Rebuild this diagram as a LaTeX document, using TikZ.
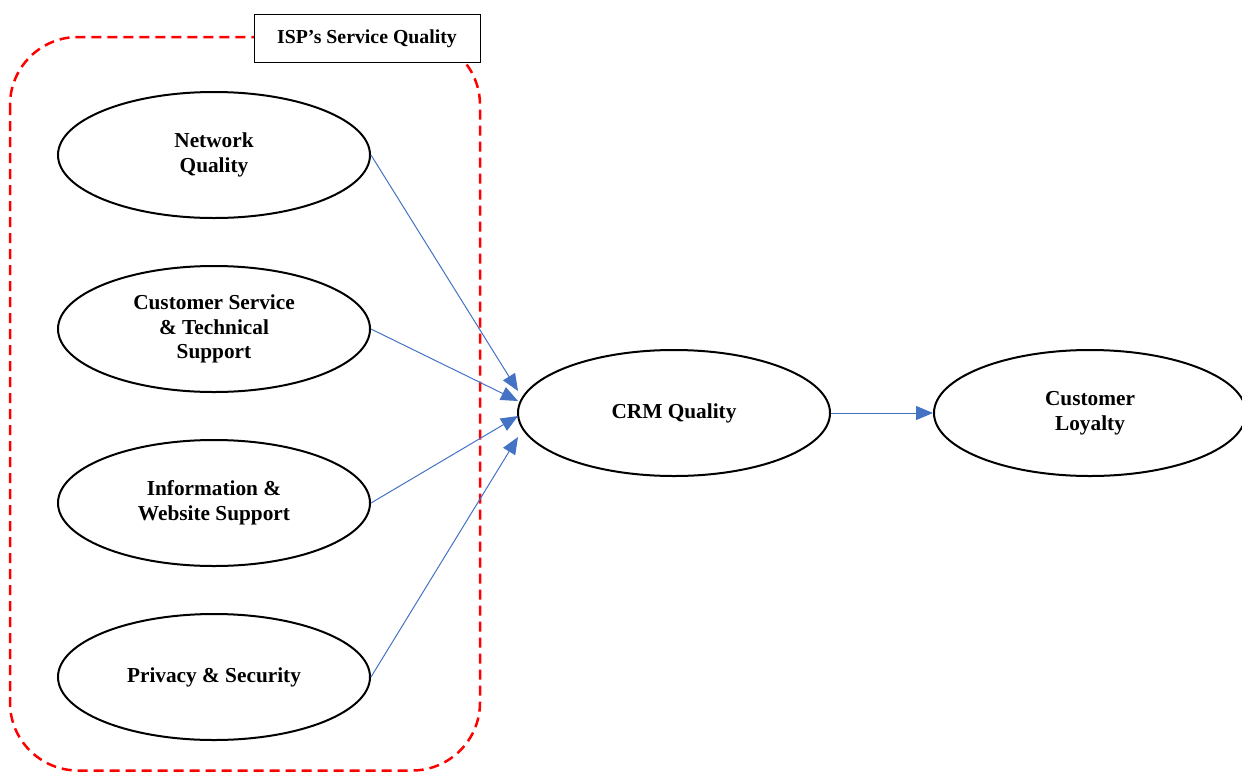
\documentclass[tikz,border=0pt]{standalone}
\usepackage{fontspec}
\setmainfont{Liberation Serif}
\usetikzlibrary{shapes.geometric,arrows.meta}
\definecolor{linkblue}{RGB}{68,114,196}
\definecolor{groupred}{RGB}{255,0,0}
\begin{document}
\begin{tikzpicture}[x=1pt, y=-1pt, >={Triangle[length=17pt,width=14pt]}]
        \tikzset{
  every construct/.style={
    ellipse,
    draw,
    line width=2pt,
    minimum width=312pt,
    minimum height=126pt,
    inner sep=0pt,
    align=center,
    font=\fontsize{21.3}{24.5}\selectfont\bfseries
  },
  group frame/.style={
    draw=groupred,
    line width=2.5pt,
    dash pattern=on 10pt off 6pt,
    rounded corners=68pt
  },
  group label/.style={
    rectangle,
    draw,
    fill=white,
    line width=1pt,
    minimum width=226pt,
    minimum height=48pt,
    font=\fontsize{19.8}{22}\selectfont\bfseries
  },
  link/.style={
    ->,
    draw=linkblue,
    line width=1pt
  }
}
\useasboundingbox (0,0) rectangle (1242,772);

% dashed group round the four service dimensions
\draw [group frame] (10,37) rectangle (480,770.5);
\node [group label] (isp) at (367,38.5) {ISP’s Service Quality};

\foreach \m/\t [count=\y] in {net/{Network\\Quality},
                             cst/{Customer Service\\\& Technical\\Support},
                             web/{Information \&\\Website Support},
                             sec/{Privacy \& Security}}
  \node [every construct] (\m) at (214,155+174*\y-174) {\t};

\node [every construct] (crm) at (674,413) {CRM Quality};
\node [every construct] (loy) at (1090,413) {Customer\\Loyalty};

\foreach \m/\s in {net/22,cst/12,web/-3,sec/-24}
  \draw [link] (\m.east) -- ([xshift=1pt,yshift=\s pt]crm.west);

\draw [link] (crm.east) -- (loy.west);
      \end{tikzpicture}
\end{document}
